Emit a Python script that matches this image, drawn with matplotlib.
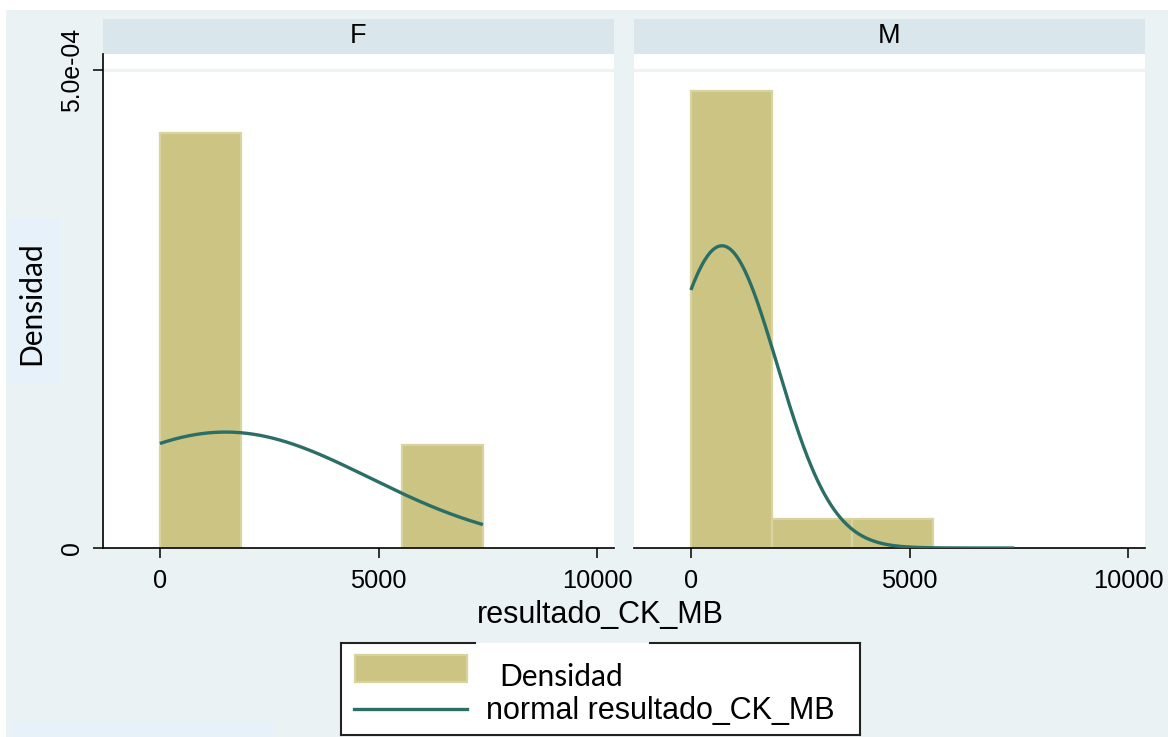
import numpy as np
import matplotlib
matplotlib.use("Agg")
import matplotlib.pyplot as plt
from matplotlib.patches import Rectangle
from matplotlib.lines import Line2D

# ---------------- data ----------------
groups = ["F", "M"]
bin_edges = [0, 1846, 3692, 5538, 7384]
density_F = [4.34e-4, 0.0, 0.0, 1.08e-4]
density_M = [4.78e-4, 3.0e-5, 3.0e-5, 0.0]
densities = [density_F, density_M]
normal_mean = [1500, 710]
normal_sd = [3290, 1262]
curve_range = [0, 7384]
xticks = [0, 5000, 10000]
xtick_labels = ["0", "5000", "10000"]
yticks = [0, 5e-4]
ytick_labels = ["0", "5.0e-04"]
xlabel = "resultado_CK_MB"
ylabel = "Densidad"
legend_labels = ["Densidad", "normal resultado_CK_MB"]

# ---------------- style ----------------
W, H = 1168, 737
BG = "#EAF2F3"
STRIP = "#D9E6EB"
BAR = "#CBC483"
BAR_EDGE = "#D9D49F"
LINE = "#2A6E66"
SANS = ["Liberation Sans", "DejaVu Sans"]
CAL = ["Lato", "DejaVu Sans"]

def fx(x):
    return x / W

def fy(y):
    return 1 - y / H

fig = plt.figure(figsize=(W / 100, H / 100), dpi=100)
fig.patch.set_facecolor("white")

# outer graph region
fig.patches.append(Rectangle((fx(6), fy(737)), fx(1168) - fx(6), fy(10) - fy(737),
                             transform=fig.transFigure, facecolor=BG, edgecolor="none", zorder=-10))
# small lighter boxes (present in the reference)
fig.patches.append(Rectangle((fx(7), fy(383)), fx(61) - fx(7), fy(218) - fy(383),
                             transform=fig.transFigure, facecolor="#E6F1F9", edgecolor="none", zorder=-9))
fig.patches.append(Rectangle((fx(13), fy(737)), fx(273) - fx(13), fy(721) - fy(737),
                             transform=fig.transFigure, facecolor="#E6F1FA", edgecolor="none", zorder=-9))

panel_x = [(103, 614), (634, 1145)]
top, bottom = 54, 548
xlim = (-1300, 10380)
ylim = (0, 5.167e-4)

for i, g in enumerate(groups):
    x0, x1 = panel_x[i]
    ax = fig.add_axes([fx(x0), fy(bottom), fx(x1) - fx(x0), fy(top) - fy(bottom)])
    ax.set_facecolor("white")
    ax.set_xlim(*xlim)
    ax.set_ylim(*ylim)
    # grid line at upper tick
    ax.axhline(5e-4, color="#EDF3F4", lw=2.2, zorder=0)
    # bars
    lefts = np.array(bin_edges[:-1], dtype=float)
    widths = np.diff(bin_edges)
    h = np.array(densities[i])
    mask = h > 0
    ax.bar(lefts[mask], h[mask], width=widths[mask], align="edge",
           color=BAR, edgecolor=BAR_EDGE, linewidth=1.6, zorder=2)
    # normal curve
    xs = np.linspace(curve_range[0], curve_range[1], 400)
    m, s = normal_mean[i], normal_sd[i]
    ys = np.exp(-0.5 * ((xs - m) / s) ** 2) / (s * np.sqrt(2 * np.pi))
    ax.plot(xs, ys, color=LINE, lw=2.4, zorder=3, solid_capstyle="butt")

    for sp in ["top", "right"]:
        ax.spines[sp].set_visible(False)
    ax.spines["bottom"].set_color("black")
    ax.spines["bottom"].set_linewidth(1.2)
    ax.set_xticks(xticks)
    ax.set_xticklabels(xtick_labels, fontsize=18.3, family=SANS)
    ax.tick_params(axis="x", length=7, width=1.1, pad=8, direction="out")
    if i == 0:
        ax.spines["left"].set_color("black")
        ax.spines["left"].set_linewidth(1.2)
        ax.set_yticks(yticks)
        ax.set_yticklabels(ytick_labels, fontsize=17.8, family=SANS,
                           rotation=90, va="center")
        ax.tick_params(axis="y", length=7, width=1.1, pad=7, direction="out")
    else:
        ax.spines["left"].set_visible(False)
        ax.set_yticks([])

    # strip
    fig.patches.append(Rectangle((fx(x0), fy(54)), fx(x1) - fx(x0), fy(19) - fy(54),
                                 transform=fig.transFigure, facecolor=STRIP,
                                 edgecolor="none", zorder=-5))
    fig.text(fx((x0 + x1) / 2), fy(36), g, ha="center", va="center",
             fontsize=19.5, family=SANS)

# axis titles
fig.text(fx(600), fy(615), xlabel, ha="center", va="center", fontsize=22, family=SANS)
fig.text(fx(31), fy(303), ylabel, ha="center", va="center", rotation=90,
         fontsize=21.5, family=CAL)

# legend (drawn manually to match position)
lx0, lx1, ly0, ly1 = 341, 860, 643, 735
fig.patches.append(Rectangle((fx(lx0), fy(ly1)), fx(lx1) - fx(lx0), fy(ly0) - fy(ly1),
                             transform=fig.transFigure, facecolor="white",
                             edgecolor="none", zorder=5))
for (xa, ya, xb, yb) in [(lx0, ly0, 475, ly0), (650, ly0, lx1, ly0),
                         (lx0, ly0, lx0, ly1), (lx1, ly0, lx1, ly1),
                         (lx0, ly1, lx1, ly1)]:
    fig.lines.append(Line2D([fx(xa), fx(xb)], [fy(ya), fy(yb)], transform=fig.transFigure,
                            color="#222222", lw=1.5, zorder=6))
fig.patches.append(Rectangle((fx(355), fy(682)), fx(467) - fx(355), fy(655) - fy(682),
                             transform=fig.transFigure, facecolor=BAR,
                             edgecolor=BAR_EDGE, lw=1.6, zorder=7))
fig.lines.append(Line2D([fx(354), fx(467)], [fy(709), fy(709)], transform=fig.transFigure,
                        color=LINE, lw=2.4, zorder=7))
fig.text(fx(499), fy(677), legend_labels[0], ha="left", va="center",
         fontsize=21.5, family=CAL, zorder=8)
fig.text(fx(486), fy(711), legend_labels[1], ha="left", va="center",
         fontsize=22, family=SANS, zorder=8)

fig.savefig("out.png", dpi=100)
